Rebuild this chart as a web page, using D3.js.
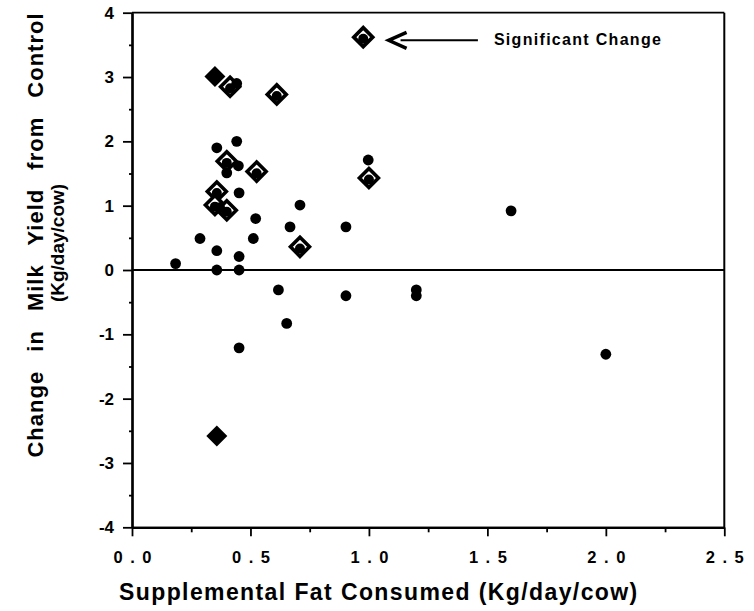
<!DOCTYPE html>
<html>
<head>
<meta charset="utf-8">
<script src="https://cdn.jsdelivr.net/npm/d3@7/dist/d3.min.js"></script>
<style>
  html, body { margin: 0; padding: 0; background: #fff; }
  svg { display: block; }
  text { font-family: "Liberation Sans", Arial, sans-serif; fill: #000; }
</style>
</head>
<body>
<svg id="chart" width="754" height="611"></svg>
<script>
// ---- Data ----
// Plain points: [fat consumed, change in milk yield]
const dotX = [0.184, 0.287, 0.358, 0.358, 0.358, 0.37, 0.40, 0.442, 0.442, 0.449, 0.452, 0.452, 0.452, 0.452, 0.512, 0.522, 0.618, 0.653, 0.667, 0.709, 0.903, 0.903, 0.997, 1.20, 1.20, 1.60, 2.00];
const dotY = [0.10, 0.49, 1.90, 0.30, 0.00, 0.97, 1.51, 2.00, 2.90, 1.62, 1.20, 0.21, 0.00, -1.21, 0.49, 0.80, -0.31, -0.83, 0.67, 1.01, 0.67, -0.40, 1.71, -0.31, -0.40, 0.92, -1.31];
// Significant change, open diamond (with point inside)
const sigX = [0.976, 0.414, 0.611, 0.40, 0.526, 1.00, 0.358, 0.35, 0.40, 0.709];
const sigY = [3.62, 2.85, 2.73, 1.69, 1.53, 1.43, 1.22, 1.01, 0.93, 0.36];
// Solid diamonds
const solidX = [0.35, 0.358];
const solidY = [3.01, -2.58];
// Axis ticks
const xTicks = [0, 0.5, 1.0, 1.5, 2.0, 2.5];
const xMinor = [0.25, 0.75, 1.25, 1.75, 2.25];
const yTicks = [-4, -3, -2, -1, 0, 1, 2, 3, 4];
const yMinor = [-3.5, -2.5, -1.5, -0.5, 0.5, 1.5, 2.5, 3.5];
// Annotation (data coordinates)
const annTip = [1.083, 3.57];
const annTail = [1.46, 3.57];
const annText = "Significant Change";
const xTitle = "Supplemental Fat Consumed (Kg/day/cow)";
const yTitle1 = "Change in Milk Yield from Control";
const yTitle2 = "(Kg/day/cow)";

// ---- Chart ----
const svg = d3.select("#chart");
const x = d3.scaleLinear().domain([0, 2.5]).range([132, 724.3]);
const y = d3.scaleLinear().domain([-4, 4]).range([527.3, 12.7]);

// frame (top and right)
svg.append("line").attr("x1", x(0)).attr("x2", x(2.5)).attr("y1", y(4)).attr("y2", y(4))
  .attr("stroke", "#000").attr("stroke-width", 1.8);
svg.append("line").attr("x1", x(2.5)).attr("x2", x(2.5)).attr("y1", y(4)).attr("y2", y(-4))
  .attr("stroke", "#000").attr("stroke-width", 2);
// zero line
svg.append("line").attr("x1", x(0)).attr("x2", x(2.5)).attr("y1", y(0)).attr("y2", y(0))
  .attr("stroke", "#000").attr("stroke-width", 2);

// Y axis
const yAxis = svg.append("g").attr("transform", `translate(${x(0)},0)`)
  .call(d3.axisLeft(y).tickValues(yTicks).tickSize(9).tickSizeOuter(0).tickPadding(9)
    .tickFormat(d => String(d)));
yAxis.selectAll("text").attr("font-size", 17).attr("font-weight", "bold")
  .style("font-family", '"Liberation Sans", Arial, sans-serif');
const yMinorAxis = svg.append("g").attr("transform", `translate(${x(0)},0)`)
  .call(d3.axisLeft(y).tickValues(yMinor).tickSize(3).tickSizeOuter(0).tickFormat(""));
[yAxis, yMinorAxis].forEach(g => {
  g.select(".domain").attr("stroke-width", 2.2);
  g.selectAll(".tick line").attr("stroke-width", 1.8);
});

// X axis
const xAxis = svg.append("g").attr("transform", `translate(0,${y(-4)})`)
  .call(d3.axisBottom(x).tickValues(xTicks).tickSize(9).tickSizeOuter(0).tickPadding(15)
    .tickFormat(d3.format(".1f")));
xAxis.selectAll("text").attr("font-size", 16.5).attr("font-weight", "bold")
  .attr("letter-spacing", 7.5).attr("dx", 3.75)
  .style("font-family", '"Liberation Sans", Arial, sans-serif');
const xMinorAxis = svg.append("g").attr("transform", `translate(0,${y(-4)})`)
  .call(d3.axisBottom(x).tickValues(xMinor).tickSize(5).tickSizeOuter(0).tickFormat(""));
[xAxis, xMinorAxis].forEach(g => {
  g.select(".domain").attr("stroke-width", 2.2);
  g.selectAll(".tick line").attr("stroke-width", 1.8);
});

// Points
const dots = dotX.map((v, i) => ({ x: v, y: dotY[i] }));
const sig = sigX.map((v, i) => ({ x: v, y: sigY[i] }));
const solid = solidX.map((v, i) => ({ x: v, y: solidY[i] }));

const diamondPath = r => `M0,${-r}L${r},0L0,${r}L${-r},0Z`;

svg.append("g").selectAll("path").data(solid).join("path")
  .attr("transform", d => `translate(${x(d.x)},${y(d.y)})`)
  .attr("d", diamondPath(10.5)).attr("fill", "#000");

const sg = svg.append("g").selectAll("g").data(sig).join("g")
  .attr("transform", d => `translate(${x(d.x)},${y(d.y)})`);
sg.append("path").attr("d", diamondPath(9.5)).attr("fill", "#fff")
  .attr("stroke", "#000").attr("stroke-width", 3.6).attr("stroke-linejoin", "miter");
sg.append("circle").attr("cx", 0).attr("cy", 1.6).attr("r", 5).attr("fill", "#000");

svg.append("g").selectAll("circle").data(dots).join("circle")
  .attr("cx", d => x(d.x)).attr("cy", d => y(d.y)).attr("r", 5.4).attr("fill", "#000");

// Annotation arrow
const tx = x(annTip[0]), ty = y(annTip[1]);
svg.append("path")
  .attr("d", `M${tx + 18},${ty - 8}L${tx},${ty}L${tx + 18},${ty + 8}`)
  .attr("fill", "none").attr("stroke", "#000").attr("stroke-width", 3.4)
  .attr("stroke-linejoin", "miter");
svg.append("line").attr("x1", tx + 12).attr("x2", x(annTail[0])).attr("y1", ty).attr("y2", ty)
  .attr("stroke", "#000").attr("stroke-width", 2);
svg.append("text").attr("x", x(annTail[0]) + 16).attr("y", ty + 5)
  .attr("font-size", 16).attr("font-weight", "bold").attr("letter-spacing", 1.3)
  .text(annText);

// Axis titles
svg.append("text").attr("x", 119).attr("y", 600)
  .attr("font-size", 23).attr("font-weight", "bold").attr("letter-spacing", 1.4)
  .text(xTitle);
svg.append("text").attr("transform", "translate(43,235) rotate(-90)")
  .attr("text-anchor", "middle")
  .attr("font-size", 22).attr("font-weight", "bold").attr("letter-spacing", 1).attr("word-spacing", 12)
  .text(yTitle1);
svg.append("text").attr("transform", "translate(64,243) rotate(-90)")
  .attr("text-anchor", "middle")
  .attr("font-size", 19).attr("font-weight", "bold")
  .text(yTitle2);
</script>
</body>
</html>
